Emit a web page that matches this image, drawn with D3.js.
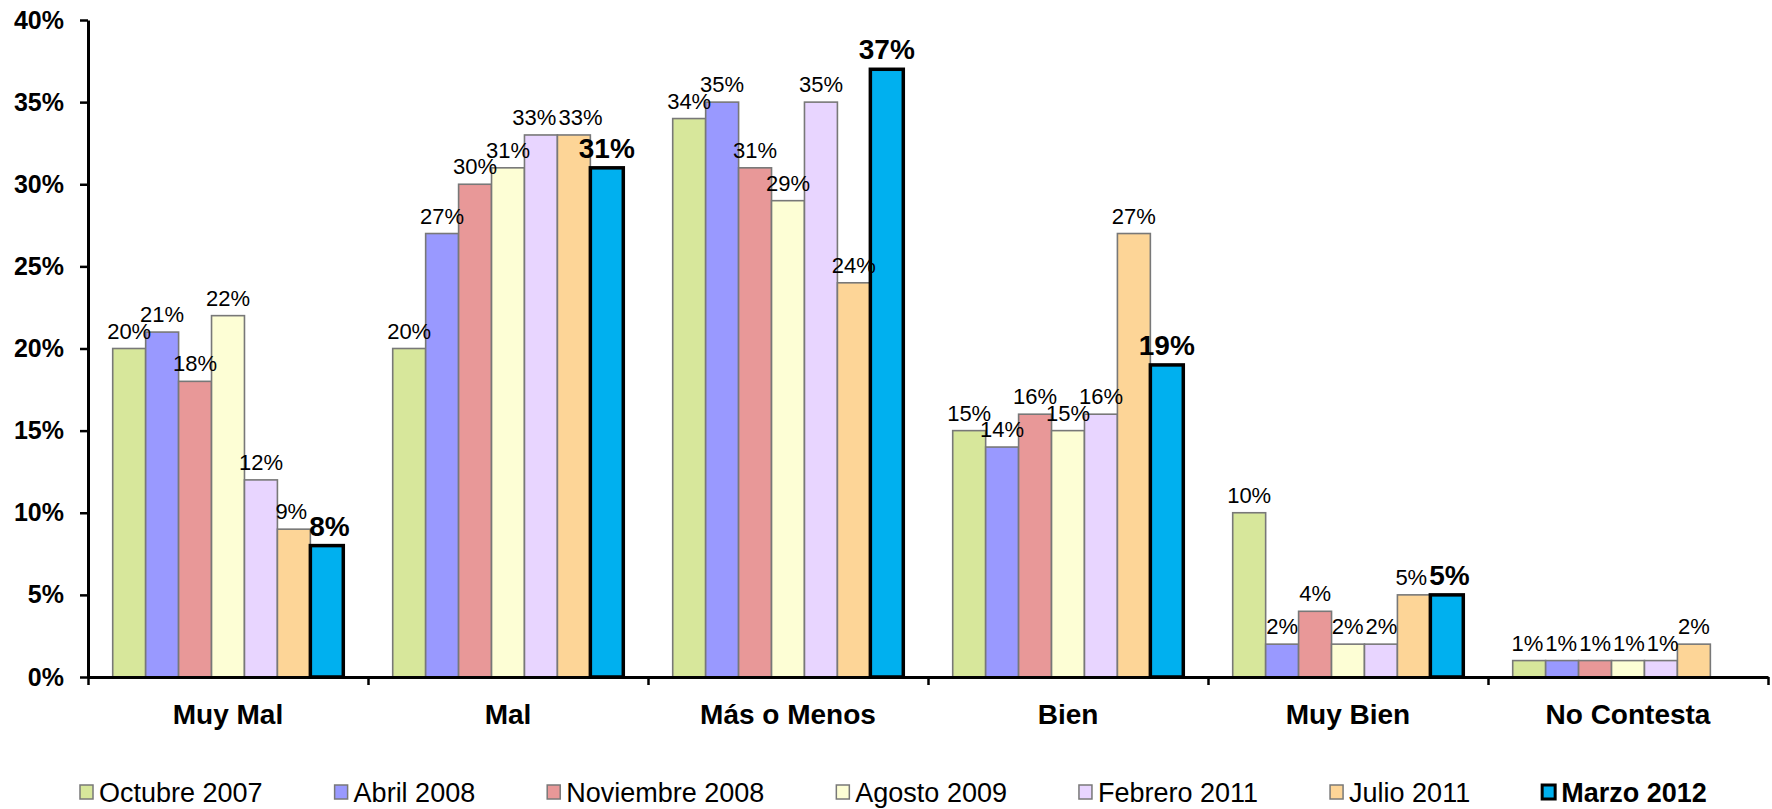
<!DOCTYPE html>
<html>
<head>
<meta charset="utf-8">
<script src="https://cdn.jsdelivr.net/npm/d3@7"></script>
<style>
	body { margin: 0; background: #fff; }
	text { font-family: "Liberation Sans", Arial, sans-serif; fill: #000; }
</style>
</head>
<body>
<div id="chart"></div>
<script>
// categories and series
let categories = ["Muy Mal", "Mal", "Más o Menos", "Bien", "Muy Bien", "No Contesta"];
let seriesNames = ["Octubre 2007", "Abril 2008", "Noviembre 2008", "Agosto 2009", "Febrero 2011", "Julio 2011", "Marzo 2012"];

let oct2007 = [20, 20, 34, 15, 10, 1];
let abr2008 = [21, 27, 35, 14, 2, 1];
let nov2008 = [18, 30, 31, 16, 4, 1];
let ago2009 = [22, 31, 29, 15, 2, 1];
let feb2011 = [12, 33, 35, 16, 2, 1];
let jul2011 = [9, 33, 24, 27, 5, 2];
let mar2012 = [8, 31, 37, 19, 5, null];

let yTicks = [0, 5, 10, 15, 20, 25, 30, 35, 40];

let colors = ["#d7e79b", "#9999ff", "#e89898", "#fdfed5", "#e8d5ff", "#fdd597", "#00b0ef"];
let highlight = "Marzo 2012";

let values = [oct2007, abr2008, nov2008, ago2009, feb2011, jul2011, mar2012];
let rows = [];
categories.forEach((c, ci) => {
	seriesNames.forEach((s, si) => {
		if (values[si][ci] != null) rows.push({ cat: c, series: s, value: values[si][ci], si: si });
	});
});

let width = 1772;
let height = 809;
let margin = { top: 20, bottom: 132, left: 88, right: 4 };

let svg = d3.select("#chart").append("svg").attr("width", width).attr("height", height);

let xScale = d3.scaleBand().domain(categories).range([margin.left, width - margin.right]).padding(0);
let xInner = d3.scaleBand().domain(seriesNames).range([0, xScale.bandwidth()]).paddingInner(0).paddingOuter(0.75);
let yScale = d3.scaleLinear().domain([0, 40]).range([height - margin.bottom, margin.top]);

// bars
let bars = svg.append("g");
bars.selectAll("rect")
	.data(rows)
	.join("rect")
	.attr("x", (d) => xScale(d.cat) + xInner(d.series))
	.attr("y", (d) => yScale(d.value))
	.attr("width", xInner.bandwidth())
	.attr("height", (d) => yScale(0) - yScale(d.value))
	.attr("fill", (d) => colors[d.si])
	.attr("stroke", (d) => (d.series === highlight ? "#000" : "#787878"))
	.attr("stroke-width", (d) => (d.series === highlight ? 3.5 : 1.6));

// y axis
let yAxis = d3.axisLeft(yScale)
	.tickValues(yTicks)
	.tickFormat((d) => d + "%")
	.tickSizeInner(8)
	.tickSizeOuter(0)
	.tickPadding(16);

svg.append("g")
	.attr("transform", `translate(${margin.left},0)`)
	.call(yAxis)
	.call((g) => g.select(".domain").attr("stroke", "#000").attr("stroke-width", 3))
	.call((g) => g.selectAll(".tick line").attr("stroke", "#000").attr("stroke-width", 2.5))
	.call((g) => g.selectAll(".tick text")
		.attr("font-family", "Liberation Sans, Arial, sans-serif")
		.attr("font-size", 25)
		.attr("font-weight", "bold")
		.attr("fill", "#000"));

// x axis: line with ticks on the category boundaries
let xEdges = d3.scaleLinear().domain([0, categories.length]).range([margin.left, width - margin.right]);
let xAxis = d3.axisBottom(xEdges)
	.tickValues(d3.range(categories.length + 1))
	.tickFormat("")
	.tickSizeInner(8)
	.tickSizeOuter(0);

svg.append("g")
	.attr("transform", `translate(0,${yScale(0)})`)
	.call(xAxis)
	.call((g) => g.select(".domain").attr("stroke", "#000").attr("stroke-width", 3))
	.call((g) => g.selectAll(".tick line").attr("stroke", "#000").attr("stroke-width", 2.5));

// category labels
svg.append("g")
	.selectAll("text")
	.data(categories)
	.join("text")
	.attr("x", (d) => xScale(d) + xScale.bandwidth() / 2)
	.attr("y", yScale(0) + 47)
	.attr("text-anchor", "middle")
	.attr("font-size", 28)
	.attr("font-weight", "bold")
	.text((d) => d);

// data labels, pushed apart where they collide inside a group
let labelG = svg.append("g");
categories.forEach((c) => {
	let groupRows = rows.filter((d) => d.cat === c);
	let labels = groupRows.map((d) => {
		let bold = d.series === highlight;
		let size = bold ? 28 : 22;
		let t = labelG.append("text")
			.attr("text-anchor", "middle")
			.attr("font-size", size)
			.attr("font-weight", bold ? "bold" : "normal")
			.text(d.value + "%");
		return {
			node: t,
			x: xScale(c) + xInner(d.series) + xInner.bandwidth() / 2,
			y: yScale(d.value) - 10,
			w: t.node().getComputedTextLength(),
			h: size * 0.72,
		};
	});
	for (let pass = 0; pass < 30; pass++) {
		for (let i = 1; i < labels.length; i++) {
			let a = labels[i - 1];
			let b = labels[i];
			let vOverlap = Math.min(a.y, b.y) - Math.max(a.y - a.h, b.y - b.h);
			if (vOverlap <= 0) continue;
			let need = (a.w + b.w) / 2 + 2;
			let gap = b.x - a.x;
			if (gap < need) {
				let shift = (need - gap) / 2;
				a.x -= shift;
				b.x += shift;
			}
		}
	}
	labels.forEach((l) => l.node.attr("x", l.x).attr("y", l.y));
});

// legend
let legend = svg.append("g");
let lx = 80;
seriesNames.forEach((s, i) => {
	let bold = s === highlight;
	legend.append("rect")
		.attr("x", lx)
		.attr("y", 785)
		.attr("width", 13)
		.attr("height", 14)
		.attr("fill", colors[i])
		.attr("stroke", bold ? "#000" : "#787878")
		.attr("stroke-width", bold ? 3 : 1.5);
	let t = legend.append("text")
		.attr("x", lx + 19)
		.attr("y", 802)
		.attr("font-size", 27)
		.attr("font-weight", bold ? "bold" : "normal")
		.text(s);
	lx += 19 + t.node().getComputedTextLength() + 72;
});
</script>
</body>
</html>
